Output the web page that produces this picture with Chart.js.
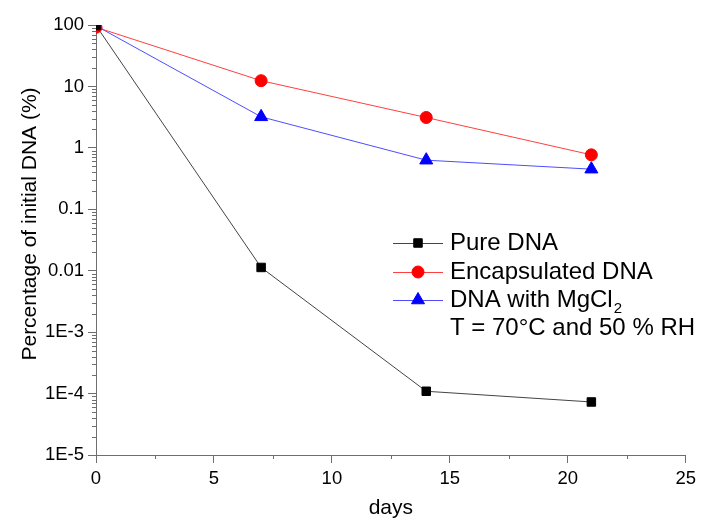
<!DOCTYPE html>
<html>
<head>
<meta charset="utf-8">
<script src="https://cdn.jsdelivr.net/npm/chart.js@4"></script>
<style>
  html, body { margin: 0; padding: 0; background: #fff; }
  #wrap { width: 701px; height: 525px; }
</style>
</head>
<body>
<div id="wrap"><canvas id="myChart" width="701" height="525"></canvas></div>
<script>
const days = [0, 7, 14, 21];
const pureDNA = [98, 0.0113, 0.000109, 0.000073];
const encapsulatedDNA = [92, 12.4, 3.12, 0.77];
const mgcl2DNA = [97, 3.2, 0.63, 0.45];
const yTickValues = [100, 10, 1, 0.1, 0.01, 0.001, 0.0001, 0.00001];
const xTickValues = [0, 5, 10, 15, 20, 25];
const xMinorTicks = [2.5, 7.5, 12.5, 17.5, 22.5];

const FONT = "'Liberation Sans', Arial, sans-serif";
const AXIS = '#6e6e6e';

function yLabel(v) {
    if (v >= 0.01) return String(v);
    return '1E' + Math.round(Math.log10(v));
}

// minor ticks, y title and the legend drawn inside the plot
const extras = {
    id: 'extras',
    afterDraw(chart) {
        const ctx = chart.ctx;
        const y = chart.scales.y;
        const x = chart.scales.x;
        ctx.save();
        ctx.strokeStyle = AXIS;
        ctx.lineWidth = 1;
        for (let e = -5; e < 2; e++) {
            for (let m = 2; m <= 9; m++) {
                const py = Math.round(y.getPixelForValue(m * Math.pow(10, e))) + 0.5;
                ctx.beginPath();
                ctx.moveTo(x.left - 4, py);
                ctx.lineTo(x.left, py);
                ctx.stroke();
            }
        }
        xMinorTicks.forEach(v => {
            const px = Math.round(x.getPixelForValue(v)) + 0.5;
            ctx.beginPath();
            ctx.moveTo(px, y.bottom);
            ctx.lineTo(px, y.bottom + 4);
            ctx.stroke();
        });

        // y axis title
        ctx.save();
        ctx.translate(30, 224);
        ctx.rotate(-Math.PI / 2);
        ctx.fillStyle = '#000';
        ctx.font = '21px ' + FONT;
        ctx.textAlign = 'center';
        ctx.textBaseline = 'middle';
        ctx.fillText('Percentage of initial DNA (%)', 0, 0);
        ctx.restore();

        const rows = [243, 272, 300];
        chart.data.datasets.forEach((ds, i) => {
            const ry = rows[i];
            ctx.strokeStyle = ds.borderColor;
            ctx.lineWidth = 1;
            ctx.beginPath();
            ctx.moveTo(393, ry + 0.5);
            ctx.lineTo(443, ry + 0.5);
            ctx.stroke();
            ctx.fillStyle = ds.pointBackgroundColor;
            ctx.strokeStyle = ds.pointBorderColor;
            Chart.helpers.drawPoint(ctx, {
                pointStyle: ds.pointStyle,
                radius: ds.pointRadius,
                rotation: 0,
                borderWidth: 1
            }, 418, ry);
        });
        ctx.fillStyle = '#000';
        ctx.font = '24px ' + FONT;
        ctx.textBaseline = 'middle';
        ctx.textAlign = 'left';
        ctx.fillText('Pure DNA', 450, 243);
        ctx.fillText('Encapsulated DNA', 450, 272);
        const t = 'DNA with MgCl';
        ctx.fillText(t, 450, 300);
        const w = ctx.measureText(t).width;
        ctx.font = '15px ' + FONT;
        ctx.fillText('2', 450 + w + 1, 309);
        ctx.font = '24px ' + FONT;
        ctx.fillText('T = 70°C and 50 % RH', 450, 328);
        ctx.restore();
    }
};

const ctx = document.getElementById('myChart').getContext('2d');
const myChart = new Chart(ctx, {
    type: 'line',
    data: {
        labels: days,
        datasets: [{
            label: 'Pure DNA',
            data: days.map((d, i) => ({ x: d, y: pureDNA[i] })),
            borderColor: '#444444',
            pointBackgroundColor: '#000000',
            pointBorderColor: '#000000',
            pointStyle: 'rect',
            pointRadius: 6,
            borderWidth: 1
        }, {
            label: 'Encapsulated DNA',
            data: days.map((d, i) => ({ x: d, y: encapsulatedDNA[i] })),
            borderColor: '#ff4040',
            pointBackgroundColor: '#ff0000',
            pointBorderColor: '#ff0000',
            pointStyle: 'circle',
            pointRadius: 6,
            borderWidth: 1
        }, {
            label: 'DNA with MgCl2',
            data: days.map((d, i) => ({ x: d, y: mgcl2DNA[i] })),
            borderColor: '#4d4dff',
            pointBackgroundColor: '#0000ff',
            pointBorderColor: '#0000ff',
            pointStyle: 'triangle',
            pointRadius: 7.5,
            borderWidth: 1
        }]
    },
    options: {
        responsive: false,
        animation: false,
        layout: { padding: { top: 25, right: 13, left: 0, bottom: 0 } },
        plugins: {
            legend: { display: false },
            tooltip: { enabled: false }
        },
        scales: {
            x: {
                type: 'linear',
                min: 0,
                max: 25,
                afterBuildTicks: s => {
                    s.ticks = xTickValues.map(v => ({ value: v }));
                },
                afterFit: s => { s.height = 70; },
                ticks: {
                    autoSkip: false,
                    maxRotation: 0,
                    padding: 5,
                    color: '#000',
                    font: { family: FONT, size: 18.5 },
                    callback: v => String(v)
                },
                grid: { drawOnChartArea: false, color: AXIS, tickLength: 8 },
                border: { color: AXIS },
                title: {
                    display: true,
                    text: 'days',
                    color: '#000',
                    font: { family: FONT, size: 21 },
                    padding: { top: 9 }
                }
            },
            y: {
                type: 'logarithmic',
                min: 0.00001,
                max: 100,
                afterBuildTicks: s => {
                    s.ticks = yTickValues.map(v => ({ value: v }));
                },
                afterFit: s => { s.width = 96; },
                ticks: {
                    autoSkip: false,
                    padding: 4,
                    color: '#000',
                    font: { family: FONT, size: 18.5 },
                    callback: v => yLabel(v)
                },
                grid: { drawOnChartArea: false, color: AXIS, tickLength: 8 },
                border: { color: AXIS },
                title: { display: false }
            }
        }
    },
    plugins: [extras]
});
</script>
</body>
</html>
